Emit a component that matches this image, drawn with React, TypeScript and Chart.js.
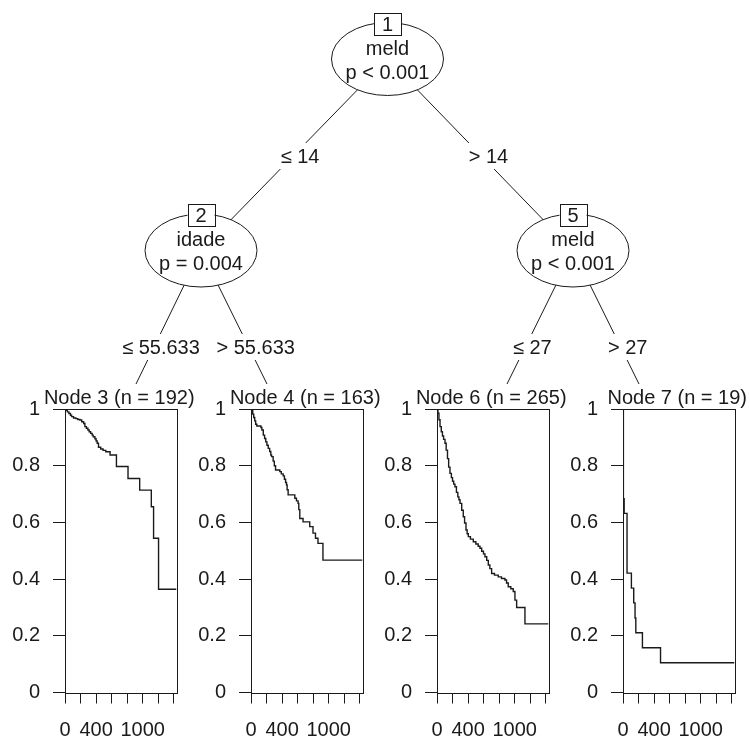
import { useEffect, useRef } from 'react';
import { Chart, registerables } from 'chart.js';

Chart.register(...registerables);

const FONT = '"Liberation Sans", Arial, Helvetica, sans-serif';
const INK = '#1a1a1a';
Chart.defaults.font.family = FONT;
Chart.defaults.color = INK;

// ---------------- data: Kaplan-Meier curves of the terminal nodes ----------------
const node3Time = [0, 15, 30, 50, 70, 85, 110, 140, 165, 192, 215, 240, 256, 275, 295, 311, 330, 350, 363, 385, 400, 414, 431, 460, 490, 525, 580, 662, 811, 961, 1111, 1140, 1204, 1435];
const node3Surv = [1, 0.995, 0.99, 0.984, 0.978, 0.973, 0.968, 0.966, 0.963, 0.961, 0.955, 0.949, 0.938, 0.932, 0.926, 0.92, 0.914, 0.908, 0.902, 0.895, 0.887, 0.879, 0.865, 0.859, 0.854, 0.849, 0.838, 0.797, 0.755, 0.714, 0.655, 0.544, 0.364, 0.364];

const node4Time = [0, 10, 22, 35, 48, 60, 75, 128, 140, 158, 175, 190, 205, 222, 240, 255, 265, 285, 300, 316, 371, 390, 414, 430, 445, 457, 465, 478, 564, 585, 606, 615, 628, 670, 756, 798, 830, 862, 926, 1435];
const node4Surv = [1, 0.994, 0.982, 0.97, 0.958, 0.946, 0.94, 0.935, 0.926, 0.908, 0.896, 0.884, 0.872, 0.861, 0.85, 0.838, 0.832, 0.816, 0.8, 0.785, 0.779, 0.771, 0.764, 0.752, 0.741, 0.732, 0.715, 0.697, 0.685, 0.676, 0.667, 0.645, 0.614, 0.602, 0.585, 0.562, 0.544, 0.526, 0.467, 0.467];

const node6Time = [0, 12, 25, 39, 55, 70, 85, 103, 118, 135, 150, 167, 185, 200, 215, 231, 250, 268, 282, 296, 318, 338, 355, 373, 388, 403, 430, 467, 500, 530, 553, 575, 598, 617, 640, 660, 680, 703, 740, 788, 830, 874, 895, 917, 950, 981, 1003, 1025, 1132, 1435];
const node6Surv = [1, 0.985, 0.962, 0.938, 0.92, 0.905, 0.893, 0.879, 0.855, 0.825, 0.795, 0.773, 0.758, 0.745, 0.735, 0.726, 0.706, 0.69, 0.68, 0.667, 0.643, 0.62, 0.598, 0.573, 0.56, 0.55, 0.541, 0.532, 0.524, 0.516, 0.509, 0.498, 0.489, 0.479, 0.466, 0.45, 0.437, 0.42, 0.414, 0.408, 0.402, 0.397, 0.386, 0.373, 0.366, 0.356, 0.326, 0.3, 0.242, 0.242];

const node7Time = [0, 5, 15, 52, 108, 138, 155, 165, 250, 483, 1435];
const node7Surv = [1, 0.684, 0.632, 0.421, 0.368, 0.316, 0.263, 0.211, 0.158, 0.105, 0.105];

const panelTitles = ['Node 3 (n = 192)', 'Node 4 (n = 163)', 'Node 6 (n = 265)', 'Node 7 (n = 19)'];
const panelTimes = [node3Time, node4Time, node6Time, node7Time];
const panelSurvs = [node3Surv, node4Surv, node6Surv, node7Surv];

const timeMax = 1435;
const xTicks = [0, 200, 400, 600, 800, 1000, 1200, 1400];
const xTickLabels = ['0', '', '400', '', '', '1000', '', ''];
const yTicks = [0, 0.2, 0.4, 0.6, 0.8, 1];
const yTickLabels = ['0', '0.2', '0.4', '0.6', '0.8', '1'];

// ---------------- tree content ----------------
const innerNodes = [
  { id: 1, variable: 'meld', pvalue: 'p < 0.001' },
  { id: 2, variable: 'idade', pvalue: 'p = 0.004' },
  { id: 5, variable: 'meld', pvalue: 'p < 0.001' },
];
const edges = [
  { from: 1, to: 2, label: '\u2264 14' },
  { from: 1, to: 5, label: '> 14' },
  { from: 2, to: 3, label: '\u2264 55.633' },
  { from: 2, to: 4, label: '> 55.633' },
  { from: 5, to: 6, label: '\u2264 27' },
  { from: 5, to: 7, label: '> 27' },
];

// ---------------- layout (frame of 750 x 744) ----------------
const W = 750;
const H = 744;
const nodePos: Record<number, [number, number]> = {
  1: [387.5, 59],
  2: [201, 250.5],
  5: [573, 250.5],
  3: [136, 384],
  4: [267, 384],
  6: [507, 384],
  7: [639, 384],
};
const edgeLabelRowY: Record<number, number> = { 2: 156, 5: 156, 3: 347, 4: 347, 6: 347, 7: 347 };
const LABEL_SHIFT = 7;
const ELL_RX = 56;
const ELL_RY = 36.5;
const ID_W = 27;
const ID_H = 22;

const panelBoxLeft = [65, 251, 437, 623];
const BOX_W = 111.5;
const AXIS_W = 60;
const PANEL_TOP = 378;
const PANEL_W = 190;
const PANEL_H = H - PANEL_TOP;
const XAXIS_H = 51.5;
const HEADER_H = 31;

function TreeChart() {
  const ref = useRef<HTMLCanvasElement>(null);
  useEffect(() => {
    if (!ref.current) return;
    const datasets = edges.map((e) => ({
      data: [
        { x: nodePos[e.from][0], y: nodePos[e.from][1] },
        { x: nodePos[e.to][0], y: nodePos[e.to][1] },
      ],
      showLine: true,
      borderColor: INK,
      borderWidth: 1,
      pointRadius: 0,
      clip: false as any,
    }));
    const treePlugin = {
      id: 'treeNodes',
      afterDatasetsDraw(chart: any) {
        const { ctx } = chart;
        const sx = chart.scales.x;
        const sy = chart.scales.y;
        ctx.save();
        ctx.font = `20px ${FONT}`;
        ctx.textAlign = 'center';
        ctx.textBaseline = 'middle';
        ctx.lineWidth = 1;
        edges.forEach((e) => {
          const [x0, y0] = nodePos[e.from];
          const [x1, y1] = nodePos[e.to];
          const ly = edgeLabelRowY[e.to];
          const t = (ly - y0) / (y1 - y0);
          const lx = x0 + (x1 - x0) * t;
          const px = sx.getPixelForValue(lx) + LABEL_SHIFT;
          const py = sy.getPixelForValue(ly);
          const w = ctx.measureText(e.label).width + 10;
          ctx.fillStyle = '#ffffff';
          ctx.fillRect(px - w / 2 - LABEL_SHIFT, py - 13, w + LABEL_SHIFT, 26);
          ctx.fillStyle = INK;
          ctx.fillText(e.label, px, py + 1);
        });
        innerNodes.forEach((n) => {
          const [cx, cy] = nodePos[n.id];
          const px = sx.getPixelForValue(cx);
          const py = sy.getPixelForValue(cy);
          ctx.beginPath();
          ctx.ellipse(px, py, ELL_RX, ELL_RY, 0, 0, Math.PI * 2);
          ctx.fillStyle = '#ffffff';
          ctx.fill();
          ctx.strokeStyle = INK;
          ctx.stroke();
          ctx.fillStyle = INK;
          ctx.fillText(n.variable, px, py - 10);
          ctx.fillText(n.pvalue, px, py + 14);
          const by = py - 35;
          ctx.fillStyle = '#ffffff';
          ctx.fillRect(px - ID_W / 2, by - ID_H / 2, ID_W, ID_H);
          ctx.strokeRect(Math.round(px - ID_W / 2) + 0.5, Math.round(by - ID_H / 2) + 0.5, ID_W, ID_H);
          ctx.fillStyle = INK;
          ctx.fillText(String(n.id), px, by + 1);
        });
        ctx.restore();
      },
    };
    const chart = new Chart(ref.current, {
      type: 'scatter',
      data: { datasets },
      options: {
        responsive: false,
        animation: false,
        events: [],
        layout: { padding: 0 },
        plugins: { legend: { display: false }, tooltip: { enabled: false }, title: { display: false } },
        scales: {
          x: { type: 'linear', min: 0, max: W, display: false },
          y: { type: 'linear', min: 0, max: H, reverse: true, display: false },
        },
      },
      plugins: [treePlugin],
    } as any);
    return () => chart.destroy();
  }, []);
  return (
    <canvas
      ref={ref}
      width={W}
      height={H}
      style={{ position: 'absolute', left: 0, top: 0, width: W, height: H, display: 'block' }}
    />
  );
}

function SurvPanel({ index }: { index: number }) {
  const ref = useRef<HTMLCanvasElement>(null);
  useEffect(() => {
    if (!ref.current) return;
    const times = panelTimes[index];
    const survs = panelSurvs[index];
    const boxPlugin = {
      id: 'panelBox',
      afterDraw(chart: any) {
        const { ctx, chartArea } = chart;
        ctx.save();
        ctx.strokeStyle = INK;
        ctx.lineWidth = 1;
        const l = Math.round(chartArea.left) + 0.5;
        const t = Math.round(chartArea.top) + 0.5;
        const r = Math.round(chartArea.right) + 0.5;
        const b = Math.round(chartArea.bottom) + 0.5;
        ctx.strokeRect(l, t, r - l, b - t);
        // header
        ctx.font = `20px ${FONT}`;
        ctx.fillStyle = INK;
        ctx.textAlign = 'center';
        ctx.textBaseline = 'middle';
        ctx.fillText(panelTitles[index], (chartArea.left + chartArea.right) / 2 - 1.5, chartArea.top - 11);
        ctx.restore();
      },
    };
    const tickFont = { size: 20, family: FONT, weight: 'normal' as const };
    const chart = new Chart(ref.current, {
      type: 'line',
      data: {
        datasets: [
          {
            data: times.map((t, i) => ({ x: t, y: survs[i] })),
            stepped: 'before',
            borderColor: INK,
            borderWidth: 1.4,
            pointRadius: 0,
            fill: false,
          },
        ],
      },
      options: {
        responsive: false,
        animation: false,
        events: [],
        layout: { padding: { left: 0, right: PANEL_W - AXIS_W - BOX_W, top: HEADER_H, bottom: 0 } },
        plugins: {
          legend: { display: false },
          tooltip: { enabled: false },
          title: { display: false },
        },
        scales: {
          x: {
            type: 'linear',
            min: 0,
            max: timeMax,
            afterBuildTicks: (s: any) => {
              s.ticks = xTicks.map((v) => ({ value: v }));
            },
            afterFit: (s: any) => {
              s.height = XAXIS_H;
            },
            ticks: {
              autoSkip: false,
              maxRotation: 0,
              minRotation: 0,
              padding: 15,
              color: INK,
              font: tickFont,
              callback: (_v: any, i: number) => xTickLabels[i],
            },
            grid: { drawOnChartArea: false, drawTicks: true, tickLength: 11, color: INK, lineWidth: 1 },
            border: { display: false },
          },
          y: {
            type: 'linear',
            min: 0,
            max: 1,
            afterBuildTicks: (s: any) => {
              s.ticks = yTicks.map((v) => ({ value: v }));
            },
            afterFit: (s: any) => {
              s.width = AXIS_W;
            },
            ticks: {
              autoSkip: false,
              padding: 13,
              color: INK,
              font: tickFont,
              callback: (_v: any, i: number) => yTickLabels[i],
            },
            grid: { drawOnChartArea: false, drawTicks: true, tickLength: 12, color: INK, lineWidth: 1 },
            border: { display: false },
          },
        },
      },
      plugins: [boxPlugin],
    } as any);
    return () => chart.destroy();
  }, [index]);
  return (
    <canvas
      ref={ref}
      width={PANEL_W}
      height={PANEL_H}
      style={{
        position: 'absolute',
        left: panelBoxLeft[index] - AXIS_W,
        top: PANEL_TOP,
        width: PANEL_W,
        height: PANEL_H,
        display: 'block',
      }}
    />
  );
}

export default function App() {
  return (
    <div
      style={{
        position: 'absolute',
        left: 0,
        top: 0,
        width: W,
        height: H,
        overflow: 'hidden',
        background: '#ffffff',
      }}
    >
      <TreeChart />
      {panelTitles.map((_, i) => (
        <SurvPanel key={i} index={i} />
      ))}
    </div>
  );
}
